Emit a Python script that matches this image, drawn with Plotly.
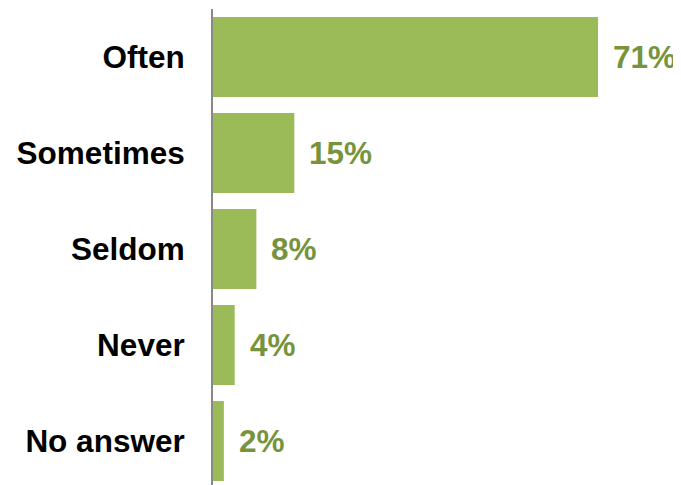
import plotly.graph_objects as go

categories = ["Often", "Sometimes", "Seldom", "Never", "No answer"]
values = [71, 15, 8, 4, 2]
labels = ["71%", "15%", "8%", "4%", "2%"]

bar_color = "#9BBB59"
text_color = "#77933C"
font_family = "Liberation Sans, Arial, sans-serif"

fig = go.Figure(
    go.Bar(
        x=values,
        y=categories,
        orientation="h",
        marker=dict(color=bar_color, line=dict(width=0)),
        hoverinfo="skip",
    )
)

for c, v, t in zip(categories, values, labels):
    fig.add_annotation(
        x=v, y=c, text=t, showarrow=False,
        xanchor="left", yanchor="middle", xshift=13,
        font=dict(family=font_family, size=31.5, color=text_color, weight="bold"),
    )

fig.update_layout(
    width=673, height=477,
    margin=dict(l=205, r=0, t=1, b=0),
    paper_bgcolor="white", plot_bgcolor="white",
    bargap=0.1667,
    showlegend=False,
    xaxis=dict(visible=False, range=[0, 86.3]),
    yaxis=dict(
        type="category",
        categoryorder="array", categoryarray=categories,
        range=[4.458, -0.5],
        showline=True, linecolor="#888888", linewidth=2,
        showgrid=False, zeroline=False,
        ticks="", ticklabelstandoff=20,
        tickfont=dict(family=font_family, size=31.5, color="black", weight="bold"),
    ),
)

fig.write_html("out.html")
